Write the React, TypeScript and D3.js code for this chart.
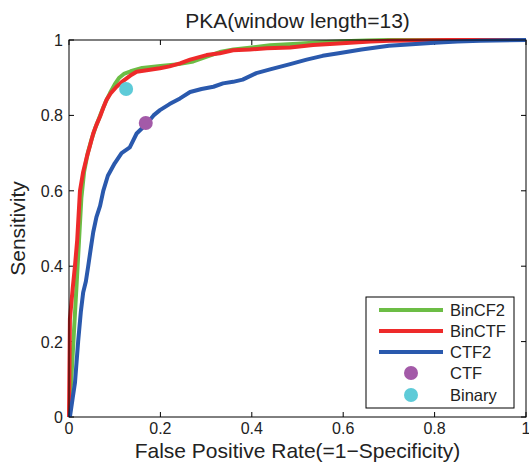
import React from "react";
import * as d3 from "d3";

const W = 529;
const H = 474;

const xTicks = [0, 0.2, 0.4, 0.6, 0.8, 1];
const yTicks = [0, 0.2, 0.4, 0.6, 0.8, 1];

const binCF2Fpr = [0, 0.005, 0.011, 0.017, 0.022, 0.027, 0.033, 0.041, 0.049, 0.057, 0.065, 0.072, 0.08, 0.09, 0.1, 0.11, 0.12, 0.135, 0.16, 0.2, 0.24, 0.272, 0.3, 0.33, 0.36, 0.4, 0.44, 0.5, 0.55, 0.6, 0.65, 0.7, 1];
const binCF2Sens = [0, 0.1, 0.23, 0.36, 0.47, 0.58, 0.65, 0.7, 0.735, 0.765, 0.79, 0.812, 0.835, 0.86, 0.882, 0.9, 0.91, 0.917, 0.926, 0.931, 0.936, 0.943, 0.955, 0.968, 0.975, 0.98, 0.986, 0.99, 0.994, 0.997, 0.999, 1, 1];

const binCTFFpr = [0, 0.002, 0.008, 0.013, 0.018, 0.024, 0.031, 0.039, 0.046, 0.053, 0.06, 0.068, 0.075, 0.082, 0.092, 0.104, 0.115, 0.126, 0.137, 0.148, 0.17, 0.199, 0.22, 0.243, 0.265, 0.301, 0.33, 0.359, 0.396, 0.433, 0.484, 0.534, 0.58, 0.615, 0.66, 0.702, 0.76, 0.83, 1];
const binCTFSens = [0, 0.26, 0.34, 0.4, 0.47, 0.6, 0.65, 0.69, 0.72, 0.752, 0.775, 0.797, 0.82, 0.841, 0.86, 0.876, 0.888, 0.898, 0.908, 0.916, 0.92, 0.925, 0.93, 0.938, 0.948, 0.96, 0.965, 0.973, 0.975, 0.978, 0.98, 0.987, 0.99, 0.993, 0.996, 0.998, 0.999, 1, 1];

const ctf2Fpr = [0.002, 0.008, 0.013, 0.02, 0.026, 0.031, 0.037, 0.042, 0.048, 0.053, 0.06, 0.068, 0.075, 0.085, 0.1, 0.115, 0.133, 0.148, 0.17, 0.185, 0.199, 0.22, 0.243, 0.265, 0.29, 0.316, 0.337, 0.359, 0.38, 0.41, 0.44, 0.484, 0.52, 0.555, 0.59, 0.64, 0.7, 0.75, 0.8, 0.85, 0.9, 1];
const ctf2Sens = [0, 0.05, 0.09, 0.2, 0.28, 0.33, 0.36, 0.4, 0.45, 0.49, 0.53, 0.56, 0.6, 0.64, 0.673, 0.7, 0.715, 0.752, 0.778, 0.8, 0.814, 0.83, 0.845, 0.862, 0.87, 0.876, 0.885, 0.889, 0.895, 0.912, 0.922, 0.936, 0.948, 0.958, 0.965, 0.975, 0.985, 0.989, 0.993, 0.996, 0.998, 1];

const pointNames = ["CTF", "Binary"];
const pointFpr = [0.168, 0.125];
const pointSens = [0.78, 0.87];

const lineNames = ["BinCF2", "BinCTF", "CTF2"];
const lineColors = ["#6cbd45", "#ee2a2a", "#2a59ad"];
const pointColors = ["#a35aa8", "#5ecbd8"];

const FONT = "'Liberation Sans', Arial, Helvetica, sans-serif";

export default function App() {
  const left = 69, right = 526, top = 40, bottom = 417;
  const x = d3.scaleLinear().domain([0, 1]).range([left, right]);
  const y = d3.scaleLinear().domain([0, 1]).range([bottom, top]);

  const series = [
    { fpr: binCF2Fpr, sens: binCF2Sens },
    { fpr: binCTFFpr, sens: binCTFSens },
    { fpr: ctf2Fpr, sens: ctf2Sens },
  ];
  const line = d3
    .line<[number, number]>()
    .x((d) => x(d[0]))
    .y((d) => y(d[1]));

  const tickLen = 5;
  const legX = 366, legY = 297, legW = 148, legH = 111;
  const rowY = [310, 331, 352, 373, 395];

  return (
    <svg
      width={W}
      height={H}
      style={{ position: "absolute", left: 0, top: 0, background: "#fff" }}
      fontFamily={FONT}
    >
      <rect x={0} y={0} width={W} height={H} fill="#fff" />
      {xTicks.map((t, i) => (
        <g key={"xt" + i}>
          <line x1={x(t)} x2={x(t)} y1={bottom} y2={bottom - tickLen} stroke="#000" strokeWidth={1} />
          <line x1={x(t)} x2={x(t)} y1={top} y2={top + tickLen} stroke="#000" strokeWidth={1} />
          <text x={x(t)} y={434} fontSize={16} textAnchor="middle" fill="#222">
            {d3.format("~g")(t)}
          </text>
        </g>
      ))}
      {yTicks.map((t, i) => (
        <g key={"yt" + i}>
          <line x1={left} x2={left + tickLen} y1={y(t)} y2={y(t)} stroke="#000" strokeWidth={1} />
          <line x1={right} x2={right - tickLen} y1={y(t)} y2={y(t)} stroke="#000" strokeWidth={1} />
          <text x={63} y={y(t) + 6} fontSize={16} textAnchor="end" fill="#222">
            {d3.format("~g")(t)}
          </text>
        </g>
      ))}
      {series.map((s, i) => (
        <path
          key={"s" + i}
          d={line(s.fpr.map((f, j) => [f, s.sens[j]] as [number, number])) || ""}
          fill="none"
          stroke={lineColors[i]}
          strokeWidth={4}
          strokeLinejoin="round"
        />
      ))}
      {pointFpr.map((f, i) => (
        <circle key={"p" + i} cx={x(f)} cy={y(pointSens[i])} r={7} fill={pointColors[i]} />
      ))}
      <rect x={left} y={top} width={right - left} height={bottom - top} fill="none" stroke="#000" strokeWidth={1} />
      <text x={(left + right) / 2} y={28} fontSize={21} textAnchor="middle" fill="#222">
        PKA(window length=13)
      </text>
      <text x={(left + right) / 2} y={458} fontSize={21} textAnchor="middle" fill="#222">
        False Positive Rate(=1−Specificity)
      </text>
      <text
        transform={`translate(25, ${(top + bottom) / 2}) rotate(-90)`}
        fontSize={21}
        textAnchor="middle"
        fill="#222"
      >
        Sensitivity
      </text>
      <rect x={legX} y={legY} width={legW} height={legH} fill="#fff" stroke="#000" strokeWidth={1} />
      {lineNames.map((n, i) => (
        <g key={"l" + i}>
          <line x1={379} x2={443} y1={rowY[i]} y2={rowY[i]} stroke={lineColors[i]} strokeWidth={4} />
          <text x={450} y={rowY[i] + 6} fontSize={16.5} fill="#222">
            {n}
          </text>
        </g>
      ))}
      {pointNames.map((n, i) => (
        <g key={"lp" + i}>
          <circle cx={411} cy={rowY[3 + i]} r={7} fill={pointColors[i]} />
          <text x={450} y={rowY[3 + i] + 6} fontSize={16.5} fill="#222">
            {n}
          </text>
        </g>
      ))}
    </svg>
  );
}
